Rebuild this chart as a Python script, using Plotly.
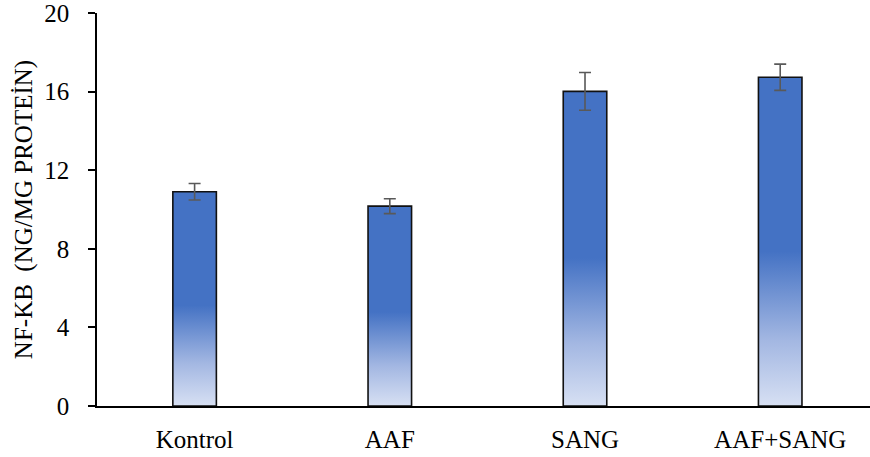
import plotly.graph_objects as go

# NF-KB levels per group (ng/mg protein) with error-bar half-widths
categories = ["Kontrol", "AAF", "SANG", "AAF+SANG"]
means = [10.9, 10.17, 16.01, 16.73]
errors = [0.42, 0.38, 0.96, 0.67]
y_ticks = [0, 4, 8, 12, 16, 20]

BAR_W = 0.223
FONT = "Liberation Serif, Times New Roman, serif"
gradient = [[0.0, "#d7e0f3"], [0.2, "#a3b7e2"], [0.47, "#4472c4"], [1.0, "#4472c4"]]

fig = go.Figure()

for i, v in enumerate(means):
    x0, x1 = i - BAR_W / 2, i + BAR_W / 2
    fig.add_trace(go.Scatter(
        x=[x0, x0, x1, x1, x0],
        y=[0, v, v, 0, 0],
        mode="lines",
        fill="toself",
        fillgradient=dict(type="vertical", colorscale=gradient, start=0, stop=v),
        line=dict(color="#111111", width=1.6),
        hoverinfo="skip",
        showlegend=False,
    ))

fig.add_trace(go.Scatter(
    x=list(range(len(categories))),
    y=means,
    mode="markers",
    marker=dict(size=1, opacity=0),
    error_y=dict(type="data", array=errors, visible=True,
                 color="#595959", thickness=1.6, width=6),
    hoverinfo="skip",
    showlegend=False,
))

fig.update_layout(
    width=870, height=457,
    margin=dict(l=97, r=0, t=13, b=51),
    paper_bgcolor="white", plot_bgcolor="white",
    font=dict(family=FONT, color="black"),
    xaxis=dict(
        range=[-0.5, 3.46],
        tickmode="array",
        tickvals=list(range(len(categories))),
        ticktext=categories,
        tickfont=dict(size=25),
        showline=True, linecolor="black", linewidth=1.6,
        showgrid=False, zeroline=False, ticks="",
        ticklabelstandoff=10,
    ),
    yaxis=dict(
        range=[0, 20],
        tickmode="array",
        tickvals=y_ticks,
        tickfont=dict(size=25),
        ticklabeloverflow="allow",
        showline=True, linecolor="black", linewidth=1.6,
        showgrid=False, zeroline=False,
        ticks="outside", ticklen=7, tickwidth=1.6, tickcolor="black",
        ticklabelstandoff=14,
        title=dict(text="NF-KB  (NG/MG PROTEİN)", font=dict(size=25), standoff=4),
    ),
)

fig.write_html("out.html")
